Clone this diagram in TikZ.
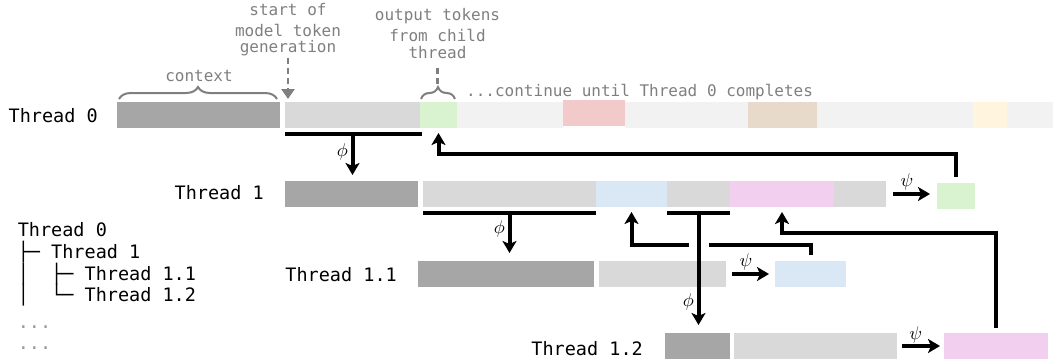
\documentclass[tikz,border=0pt]{standalone}
\usepackage{fontspec}
\usepackage{graphicx}
\newfontfamily\mono{DejaVu Sans Mono}
\usetikzlibrary{arrows.meta,decorations.pathreplacing,calc}
\definecolor{tkdark}{HTML}{A6A6A6}
\definecolor{tklight}{HTML}{D9D9D9}
\definecolor{tkpale}{HTML}{F2F2F2}
\definecolor{tkgreen}{HTML}{D9F2D0}
\definecolor{tkblue}{HTML}{DAE8F6}
\definecolor{tkpink}{HTML}{F2CEEF}
\definecolor{tkred}{HTML}{F2CACA}
\definecolor{tktan}{HTML}{E8DACA}
\definecolor{tkyellow}{HTML}{FFF4DE}
\definecolor{anngray}{HTML}{7F7F7F}
\definecolor{dotgray}{HTML}{999999}
\newcommand\tokbar[5]{\node[tok,fill=#5,minimum width={(#3-#2)*1pt},anchor=north west] (#1) at (#2,#4) {};}
\newcommand\gk[1]{\scalebox{1.85}{$#1$}}
\begin{document}
\begin{tikzpicture}[x=1pt,y=-1pt,
  tok/.style={inner sep=0pt,outer sep=0pt,minimum height=26pt,draw=none},
  fork/.style={line width=4pt},
  arr/.style={line width=4pt,-{Stealth[length=12pt,width=14pt,inset=3pt]}},
  lbl/.style={font={\mono\fontsize{18.5}{22}\selectfont},inner sep=0pt},
  ann/.style={font={\mono\fontsize{16}{16}\selectfont},text=anngray,inner sep=0pt},
  greek/.style={font=\normalsize,inner sep=0.5pt},
  brc/.style={draw=anngray,line width=2pt,decorate,decoration={brace,amplitude=12pt}},
  dsh/.style={draw=anngray,line width=2.5pt,dash pattern=on 6pt off 4pt}]
\useasboundingbox (0,0) rectangle (1053,362);

% ---------- Thread 0 row ----------
\tokbar{t0ctx}{117}{280}{102}{tkdark}
\tokbar{t0gen}{285}{420}{102}{tklight}
\tokbar{t0g}{420}{457}{102}{tkgreen}
\tokbar{t0p1}{457}{563}{102}{tkpale}
\tokbar{t0red}{563}{625}{100}{tkred}
\tokbar{t0p2}{625}{748}{102}{tkpale}
\tokbar{t0tan}{748}{817}{102}{tktan}
\tokbar{t0p3}{817}{973}{102}{tkpale}
\tokbar{t0yel}{973}{1007}{102}{tkyellow}
\tokbar{t0p4}{1007}{1053}{102}{tkpale}

% ---------- Thread 1 row ----------
\tokbar{t1ctx}{285}{418}{181}{tkdark}
\tokbar{t1a}{423}{596}{181}{tklight}
\tokbar{t1blue}{596}{667}{181}{tkblue}
\tokbar{t1b}{667}{730}{181}{tklight}
\tokbar{t1pink}{730}{834}{181}{tkpink}
\tokbar{t1c}{834}{886}{181}{tklight}
\tokbar{t1out}{937}{975}{183}{tkgreen}

% ---------- Thread 1.1 row ----------
\tokbar{t11ctx}{418}{594}{261}{tkdark}
\tokbar{t11gen}{599}{726}{261}{tklight}
\tokbar{t11out}{775}{846}{261}{tkblue}

% ---------- Thread 1.2 row ----------
\tokbar{t12ctx}{665}{730}{333}{tkdark}
\tokbar{t12gen}{734}{897}{333}{tklight}
\tokbar{t12out}{944}{1048}{333}{tkpink}

% ---------- row labels ----------
\node[lbl,anchor=base east] (l0) at (98,122) {Thread 0};
\node[lbl,anchor=base east] (l1) at (264,199) {Thread 1};
\node[lbl,anchor=base east] (l11) at (397,281) {Thread 1.1};
\node[lbl,anchor=base east] (l12) at (643,355) {Thread 1.2};

% ---------- tree ----------
\node[lbl,anchor=base west] (tr0) at (17.6,236.5) {Thread 0};
\node[lbl,anchor=base west] (tr1) at (17.6,258.3) {├─\ Thread 1};
\node[lbl,anchor=base west] (tr2) at (17.6,280) {│\ \ ├─\ Thread 1.1};
\node[lbl,anchor=base west] (tr3) at (17.6,301.5) {│\ \ └─\ Thread 1.2};
\node[lbl,anchor=base west,text=dotgray] (tr4) at (17.6,328) {...};
\node[lbl,anchor=base west,text=dotgray] (tr5) at (17.6,349) {...};

% ---------- annotations ----------
\draw[brc] (119,99) -- (277,99);
\node[ann,anchor=base] (ctx) at (199,81) {context};

\node[ann,anchor=base] (sg1) at (288,15) {start of};
\node[ann,anchor=base] (sg2) at (288,36.7) {model token};
\node[ann,anchor=base] (sg3) at (288,52.7) {generation};
\draw[dsh,-{Triangle[length=10pt,width=13pt]}] ([yshift=-5pt]sg3.base) -- (sg3.base |- t0gen.north) [shorten >=3pt];

\node[ann,anchor=base] (ot1) at (437.5,20) {output tokens};
\node[ann,anchor=base] (ot2) at (437.5,41.7) {from child};
\node[ann,anchor=base] (ot3) at (437.5,58) {thread};
\draw[brc] (421,99) -- (455,99);
\coordinate (gtip) at ($(t0g.north)+(0,-15)$);
\draw[dsh] ([yshift=-10pt]ot3.base) -- (ot3.base |- gtip);

\node[ann,anchor=base west] (cont) at (466,96) {...continue until Thread 0 completes};

% ---------- Thread 0 -> Thread 1 ----------
\draw[fork] ([yshift=-6pt]t0gen.south west) -- ([yshift=-6pt,xshift=2pt]t0gen.south east);
\draw[arr] ([yshift=-6pt]t0gen.south) -- ([yshift=6pt]t0gen.south |- t1ctx.north)
  node[greek,pos=0.44,left=2pt] (phi0) {\gk{\phi}};

% ---------- Thread 1 -> Thread 1.1 ----------
\draw[fork] ([yshift=-5.5pt]t1a.south west) -- ([yshift=-5.5pt]t1a.south east);
\draw[arr] ([yshift=-5.5pt]t1a.south) -- ([yshift=8pt]t1a.south |- t11ctx.north)
  node[greek,pos=0.41,left=2pt] (phi1) {\gk{\phi}};

% ---------- Thread 1 -> Thread 1.2 ----------
\draw[fork] ([yshift=-5.5pt]t1b.south west) -- ([yshift=-5.5pt]t1b.south east);
\draw[arr] ([yshift=-5.5pt]t1b.south) -- ([yshift=8pt]t1b.south |- t12ctx.north)
  node[greek,pos=0.79,left=2pt] (phi2) {\gk{\phi}};

% ---------- psi arrows ----------
\draw[arr,shorten <=7pt,shorten >=7pt] (t1c.east) -- (t1c.east -| t1out.west)
  node[greek,pos=0.41,above=1pt] (psi1) {\gk{\psi}};
\draw[arr,shorten <=6pt,shorten >=6pt] (t11gen.east) -- (t11gen.east -| t11out.west)
  node[greek,pos=0.41,above=1pt] (psi11) {\gk{\psi}};
\draw[arr,shorten <=5pt,shorten >=4pt] (t12gen.east) -- (t12gen.east -| t12out.west)
  node[greek,pos=0.4,above=0pt] (psi12) {\gk{\psi}};

% ---------- returns ----------
\draw[arr] ([yshift=6pt]t1out.north) -- ++(0,-23) -| ([yshift=-5pt]t0g.south);
\coordinate (j11) at ($(t1b.south)+(0,38)$);
\draw[fork] ([yshift=6pt]t11out.north) |- ([xshift=10pt]j11);
\draw[arr] ([xshift=-10pt]j11) -| ([yshift=-5pt]t1blue.south);
\draw[arr] ([yshift=5pt]t12out.north) -- ++(0,-95) -| ([yshift=-5pt]t1pink.south);
\end{tikzpicture}
\end{document}
